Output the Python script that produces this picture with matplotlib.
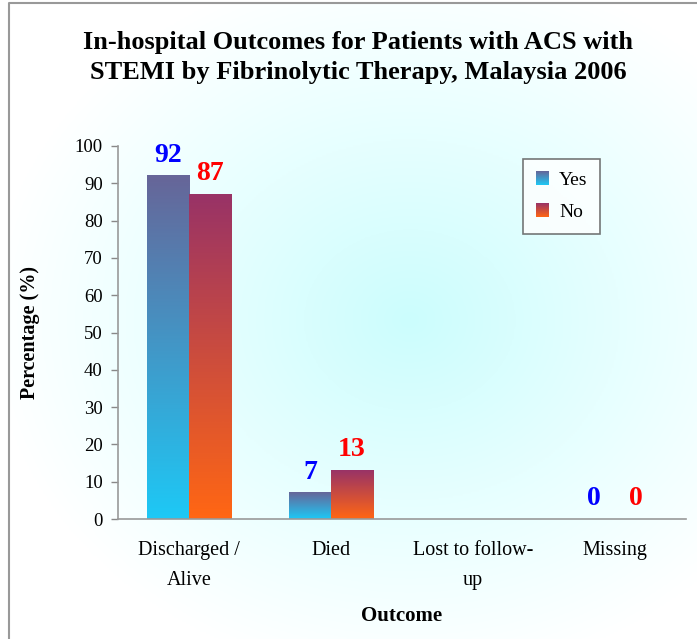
import numpy as np
import matplotlib
matplotlib.use("Agg")
import matplotlib.pyplot as plt
from matplotlib.colors import LinearSegmentedColormap
from matplotlib.patches import Patch, Rectangle
from matplotlib.legend_handler import HandlerBase
from matplotlib.image import BboxImage
from matplotlib.transforms import Bbox, TransformedBbox

plt.rcParams['font.family'] = ['Liberation Serif', 'DejaVu Serif']

# data
categories = ['Discharged /\nAlive', 'Died', 'Lost to follow-\nup', 'Missing']
yes_vals = [92, 7, np.nan, 0]
no_vals = [87, 13, np.nan, 0]
series_names = ['Yes', 'No']
yticks = list(range(0, 101, 10))

yes_cmap = LinearSegmentedColormap.from_list('yes', ['#1ec8f5', '#666699'])
no_cmap = LinearSegmentedColormap.from_list('no', ['#ff6614', '#993366'])
bg_cmap = LinearSegmentedColormap.from_list('bg', ['#ffffff', '#e6ffff', '#ccfdfd'])


class GradHandler(HandlerBase):
    def __init__(self, cmap):
        super().__init__()
        self.cmap = cmap

    def create_artists(self, legend, orig_handle, xdescent, ydescent,
                       width, height, fontsize, trans):
        bb = TransformedBbox(Bbox.from_bounds(-xdescent, -ydescent, width, height), trans)
        img = BboxImage(bb, cmap=self.cmap, interpolation='bilinear', origin='lower')
        img.set_data(np.linspace(0, 1, 64).reshape(-1, 1))
        return [img]


fig = plt.figure(figsize=(6.97, 6.39), dpi=100)

# radial background
bgax = fig.add_axes([0, 0, 1, 1], zorder=-10)
gx, gy = np.meshgrid(np.linspace(0, 697, 350), np.linspace(0, 639, 320))
r = np.sqrt(((gx - 410) / 420) ** 2 + ((gy - 320) / 360) ** 2)
bgax.imshow(np.clip(1 - r, 0, 1), cmap=bg_cmap, extent=[0, 697, 639, 0],
            aspect='auto', interpolation='bilinear')
bgax.add_patch(Rectangle((0, 0), 9, 639, color='white', lw=0))
bgax.add_patch(Rectangle((0, 0), 697, 3, color='white', lw=0))
bgax.plot([9, 9, 697], [639, 3, 3], color='#999999', lw=1.5)
bgax.set_xlim(0, 697)
bgax.set_ylim(639, 0)
bgax.axis('off')

ax = fig.add_axes([118 / 697, 120 / 639, 568 / 697, 373 / 639])
ax.set_facecolor('none')

x = np.arange(len(categories))
w = 0.296
groups = [(yes_vals, -w / 2, yes_cmap, 'blue'), (no_vals, w / 2, no_cmap, 'red')]
for vals, off, cmap, tc in groups:
    bars = ax.bar(x + off, np.nan_to_num(vals), w, color='none', lw=0)
    for b, v in zip(bars, vals):
        if np.isnan(v):
            continue
        if v > 0:
            x0, y0 = b.get_x(), b.get_y()
            ax.imshow(np.linspace(0, 1, 64).reshape(-1, 1), cmap=cmap, origin='lower',
                      extent=[x0, x0 + b.get_width(), y0, y0 + b.get_height()],
                      aspect='auto', interpolation='bilinear', zorder=2)
        ax.annotate(f'{v:.0f}', (b.get_x() + b.get_width() / 2, v), xytext=(0, 6),
                    textcoords='offset points', ha='center', va='bottom',
                    color=tc, fontsize=20, fontweight='bold')

ax.set_xlim(-0.5, len(categories) - 0.5)
ax.set_ylim(0, 100)
ax.set_yticks(yticks)
ax.set_xticks(x)
ax.set_xticklabels(categories, fontsize=14.5, linespacing=1.75)
ax.tick_params(axis='x', length=0, pad=16)
ax.tick_params(axis='y', labelsize=13.5, length=5, width=1, color='#888888', pad=6, direction='out')
for s in ['top', 'right']:
    ax.spines[s].set_visible(False)
for s in ['left', 'bottom']:
    ax.spines[s].set_color('#999999')
    ax.spines[s].set_linewidth(1.2)

ax.set_ylabel('Percentage (%)', fontsize=14.5, fontweight='bold', labelpad=25)
ax.set_xlabel('Outcome', fontsize=15, fontweight='bold', labelpad=12)

handles = [Patch(label=n) for n in series_names]
leg = ax.legend(handles, series_names, loc='upper left', bbox_to_anchor=(0.713, 0.965),
                handler_map={handles[0]: GradHandler(yes_cmap), handles[1]: GradHandler(no_cmap)},
                fontsize=14, frameon=True, fancybox=False, edgecolor='#555555',
                handlelength=0.65, handleheight=0.7, handletextpad=0.55,
                labelspacing=0.75, borderpad=0.65, borderaxespad=0)
leg.get_frame().set_linewidth(1.2)

fig.text(0.514, 0.91, 'In-hospital Outcomes for Patients with ACS with\nSTEMI by Fibrinolytic Therapy, Malaysia 2006',
         ha='center', va='center', fontsize=19, fontweight='bold', linespacing=1.4)

fig.savefig('out.png', dpi=100)
